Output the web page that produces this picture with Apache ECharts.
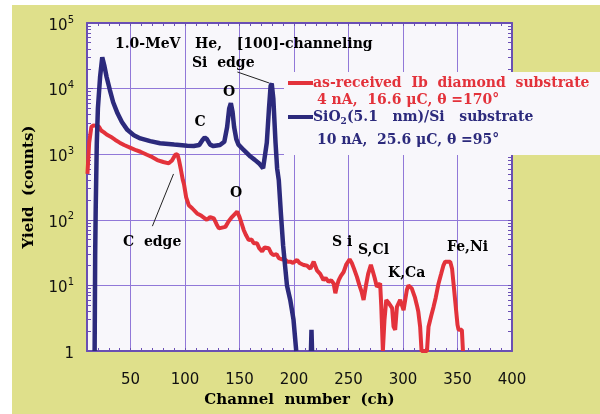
<!DOCTYPE html>
<html>
<head>
<meta charset="utf-8">
<script src="https://cdn.jsdelivr.net/npm/echarts@6/dist/echarts.min.js"></script>
<style>html,body{margin:0;padding:0;background:#fff}#c{width:600px;height:414px}</style>
</head>
<body>
<div id="c"></div>
<script>
// ---- data (channel, counts) ----
const xTickLabels = [50, 100, 150, 200, 250, 300, 350, 400];
const yDecades = [1, 10, 100, 1000, 10000, 100000];

const sio2Channel = [17,17.5,18,19,20,22,24,26,28,31,34,38,42,47,53,59,68,77,90,102,108,113,116,118,120,123,126,132,136,138.6,140.5,142,143.5,145,147,149,154,160,164,168,170,171.6,173,175,177,178.5,179.5,181,183,184.5,186,188,190,192,193.5,196.5,199.5,202,null,215.5,216,216.5];
const sio2Counts  = [1,30,150,1500,5000,15000,30000,22000,15000,9500,6200,4200,3100,2350,1950,1740,1580,1470,1400,1340,1330,1380,1650,1800,1700,1400,1330,1380,1550,2600,5000,6000,4500,2600,1700,1400,1150,920,820,720,660,610,650,1500,5000,11000,12000,7000,1500,600,400,120,40,18,10,6,3,1,null,1,2.1,1];

const diamondChannel = [10.4,12,14,16,19,21,23,25.6,28,31.7,36,40,44,50,55,59,65,70,74.5,80,85,88,91,93,94.5,96,98,99,101,103.4,106.5,111,115,120,123,126.4,129,131,134,137,140,143,147.8,150,153.8,156,158.4,161,163,166,168,170.7,173,176.7,179,181,184,186,189,192,194,196.6,199,202.8,205,208.8,212,215,218,221,224,227,229,231.7,234,236.3,237.9,239.5,241,243,245.5,248,251,253,255,257.7,260,262,263.8,266,268,270.5,272,274,276,279,280,281.5,283,284.6,286.5,288.3,290,291.3,292.8,294.4,297.4,300.5,302,303.5,305,306.5,308,309.6,311,312.7,314,315.7,317,322,323.4,326,328,330,332.6,335,337,338.7,343.3,345,346.5,347.8,350,351,354,355];
const diamondCounts  = [500,1500,2600,2750,2700,2630,2300,2150,2000,1850,1650,1500,1380,1250,1150,1090,980,900,815,760,726,800,980,1000,800,600,400,350,220,167,150,125,115,100,110,105,85,74,76,78,95,110,133,110,70,58,49,50,44,44,37,33,38,37,31,29,30,26,25,24.5,23,23,22,24.5,22,20.5,20,18,23,17,15,12,13,11.4,12,10.7,7.6,10,12,14,16,21,25,22,18,13.5,10,8,6,10,15,20.5,17,13,9.5,10.7,5,1,3,6,5.5,5.3,4.5,2.35,2.1,4.7,6,4.2,6,8.5,10,10.5,9,8.5,6.5,5,4,2.35,1,1,2.35,3.5,4.7,6.5,10.7,15,20,23,23,18,10,6,2.5,2.1,2.1,1];

const RED = '#e3323b', BLUE = '#2c2a7c';
const GRID = '#9178d8', SPINE = '#6a4fb4';
const SERIF = '"DejaVu Serif"';

function pairs(xs, ys) { return xs.map((x, i) => (x === null ? [null, null] : [x, ys[i]])); }

// minor tick positions (log10 space) for decoration axes
const minorLog = [];
for (let d = 0; d < 5; d++) for (let k = 1; k <= 9; k++) minorLog.push(+(d + Math.log10(k)).toFixed(6));
minorLog.push(5);

const chart = echarts.init(document.getElementById('c'), null, { renderer: 'canvas' });

const txt = (text, x, y, color, size, align) => ({
  type: 'text', x: x, y: y, z: 20,
  style: { text: text, fill: color || '#000', font: 'bold ' + (size || 14) + 'px ' + SERIF, align: align || 'left', verticalAlign: 'middle' }
});

chart.setOption({
  animation: false,
  backgroundColor: '#dfe08b',
  grid: { left: 87, right: 88, top: 23, bottom: 63, show: true, backgroundColor: '#f8f7fb', borderWidth: 0 },
  xAxis: [
    { type: 'value', position: 'bottom', min: 10, max: 400,
      name: 'Channel  number  (ch)', nameLocation: 'middle', nameGap: 40,
      nameTextStyle: { fontFamily: SERIF, fontWeight: 'bold', fontSize: 15, color: '#000' },
      axisLine: { show: true, lineStyle: { color: SPINE, width: 2 } },
      axisTick: { show: false, customValues: xTickLabels },
      axisLabel: { customValues: xTickLabels, fontFamily: 'DejaVu Sans', fontSize: 15, color: '#111', margin: 22 },
      splitLine: { show: true, lineStyle: { color: GRID, width: 1 } } },
    { type: 'value', position: 'bottom', min: 10, max: 400, interval: 10,
      axisLine: { show: false }, axisTick: { show: true, inside: true, length: 3, lineStyle: { color: SPINE } },
      axisLabel: { show: false }, splitLine: { show: false } },
    { type: 'value', position: 'top', min: 10, max: 400, interval: 10,
      axisLine: { show: true, lineStyle: { color: SPINE, width: 2 } },
      axisTick: { show: true, inside: true, length: 3, lineStyle: { color: SPINE } },
      axisLabel: { show: false }, splitLine: { show: false } }
  ],
  yAxis: [
    { type: 'log', logBase: 10, min: 1, max: 100000, position: 'left',
      name: 'Yield  (counts)', nameLocation: 'middle', nameGap: 50,
      nameTextStyle: { fontFamily: SERIF, fontWeight: 'bold', fontSize: 15, color: '#000' },
      axisLine: { show: true, lineStyle: { color: SPINE, width: 2 } },
      axisTick: { show: true, inside: true, length: 6, lineStyle: { color: SPINE } },
      axisLabel: {
        margin: 13, padding: [6, 0, 0, 0],
        formatter: function (v) {
          const e = Math.round(Math.log10(v));
          return e === 0 ? '{n|1}' : '{n|10}{s|' + e + '}';
        },
        rich: {
          n: { fontFamily: 'DejaVu Sans', fontSize: 15, color: '#111', lineHeight: 22 },
          s: { fontFamily: 'DejaVu Sans', fontSize: 10, color: '#111', lineHeight: 12, verticalAlign: 'top' }
        }
      },
      splitLine: { show: true, lineStyle: { color: GRID, width: 1 } } },
    { type: 'value', min: 0, max: 5, position: 'left',
      axisLine: { show: false },
      axisTick: { show: true, inside: true, length: 4, customValues: minorLog, lineStyle: { color: SPINE } },
      axisLabel: { show: false }, splitLine: { show: false } },
    { type: 'value', min: 0, max: 5, position: 'right',
      axisLine: { show: true, lineStyle: { color: SPINE, width: 2 } },
      axisTick: { show: true, inside: true, length: 4, customValues: minorLog, lineStyle: { color: SPINE } },
      axisLabel: { show: false }, splitLine: { show: false } }
  ],
  series: [
    { type: 'line', name: 'as-received Ib diamond substrate', xAxisIndex: 0, yAxisIndex: 0,
      data: pairs(diamondChannel, diamondCounts), showSymbol: false, symbol: 'none',
      lineStyle: { color: RED, width: 4 }, itemStyle: { color: RED }, z: 3,
      markLine: { silent: true, symbol: ['none', 'none'], label: { show: false },
        lineStyle: { color: '#222', width: 1, type: 'solid' },
        data: [[{ coord: [70, 80] }, { coord: [89.4, 500] }]] } },
    { type: 'line', name: 'SiO2(5.1 nm)/Si substrate', xAxisIndex: 0, yAxisIndex: 0,
      data: pairs(sio2Channel, sio2Counts), showSymbol: false, symbol: 'none', connectNulls: false,
      lineStyle: { color: BLUE, width: 4.5 }, itemStyle: { color: BLUE }, z: 4,
      markLine: { silent: true, symbol: ['none', 'none'], label: { show: false },
        lineStyle: { color: '#222', width: 1, type: 'solid' },
        data: [[{ coord: [148, 17900] }, { coord: [177, 12200] }]] } }
  ],
  graphic: [
    { type: 'rect', shape: { x: 0, y: 0, width: 600, height: 5 }, style: { fill: '#fff' }, z: 1 },
    { type: 'rect', shape: { x: 0, y: 0, width: 12, height: 414 }, style: { fill: '#fff' }, z: 1 },
    { type: 'rect', shape: { x: 284, y: 72, width: 316, height: 83 }, style: { fill: '#f8f7fb' }, z: 15 },
    { type: 'line', shape: { x1: 288, y1: 83, x2: 313, y2: 83 }, style: { stroke: RED, lineWidth: 4 }, z: 16 },
    { type: 'line', shape: { x1: 288, y1: 117, x2: 313, y2: 117 }, style: { stroke: BLUE, lineWidth: 4 }, z: 16 },
    txt('as-received  Ib  diamond  substrate', 313, 83, RED, 14),
    txt('4 nA,  16.6 μC, θ =170°', 317, 100, RED, 14),
    { type: 'text', x: 313, y: 117, z: 20,
      style: { text: '{a|SiO}{b|2}{a|(5.1   nm)/Si   substrate}', verticalAlign: 'middle', align: 'left',
        rich: { a: { font: 'bold 14px ' + SERIF, fill: BLUE, lineHeight: 18 },
                b: { font: 'bold 9px ' + SERIF, fill: BLUE, lineHeight: 10, verticalAlign: 'bottom' } } } },
    txt('10 nA,  25.6 μC, θ =95°', 317, 140, BLUE, 14),
    txt('1.0-MeV   He,   [100]-channeling', 115, 44, '#000', 14),
    txt('Si  edge', 192, 63, '#000', 14),
    txt('C', 200, 122, '#000', 14, 'center'),
    txt('O', 229, 92, '#000', 14, 'center'),
    txt('O', 236, 193, '#000', 14, 'center'),
    txt('C  edge', 123, 242, '#000', 14),
    txt('S i', 332, 242, '#000', 14),
    txt('S,Cl', 358, 250, '#000', 14),
    txt('K,Ca', 388, 273, '#000', 14),
    txt('Fe,Ni', 447, 247, '#000', 14)
  ]
});
</script>
</body>
</html>
